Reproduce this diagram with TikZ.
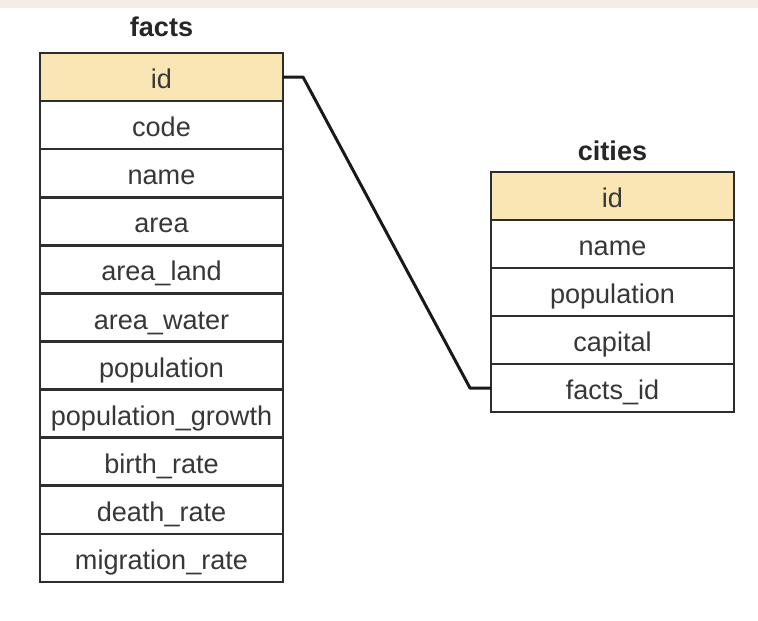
\documentclass[tikz,border=0pt]{standalone}
\usepackage{fontspec}
\setmainfont{Liberation Sans}
\usetikzlibrary{positioning}

\definecolor{keyfill}{RGB}{250,229,180}
\definecolor{rowedge}{RGB}{45,45,45}
\definecolor{rowtext}{RGB}{55,55,55}
\definecolor{topband}{RGB}{246,236,230}

\tikzset{
    field/.style={draw=rowedge, line width=0.75pt, fill=white, text=rowtext,
        minimum width=2.43cm, minimum height=0.481cm, inner sep=0pt, outer sep=0pt,
        text height=0.86em, text depth=0.2em, font=\fontsize{7.7}{9}\selectfont},
    keyfield/.style={field, fill=keyfill},
    tabletitle/.style={text=black!85, font=\fontsize{7.7}{9}\selectfont\bfseries},
    link/.style={draw=black!90, line width=0.85pt, line join=round}
}

\begin{document}
\begin{tikzpicture}[x=0.01cm, y=-0.01cm]

    % Page and faint strip along the top
    \useasboundingbox (0,0) rectangle (758,620);
    \fill[white] (0,0) rectangle (758,620);
    \fill[topband] (0,0) rectangle (758,8);

    % facts table
    \node[tabletitle] (facts-title) at (161.5,27) {facts};
    \node[keyfield] (facts-0) at (161.5,77) {id};
    \foreach \f [count=\i] in {code,name,area,area\_land,area\_water,population,
            population\_growth,birth\_rate,death\_rate,migration\_rate} {
        \node[field] (facts-\i) at (161.5,77+48.09*\i) {\f};
    }

    % cities table
    \node[tabletitle] (cities-title) at (612.5,151) {cities};
    \node[keyfield] (cities-0) at (612.5,196) {id};
    \foreach \f [count=\i] in {name,population,capital,facts\_id} {
        \node[field] (cities-\i) at (612.5,196+48*\i) {\f};
    }

    % Key link
    \coordinate (bend-a) at (303,77);
    \coordinate (bend-b) at (470,388);
    \draw[link] (facts-0.east) -- (bend-a) -- (bend-b) -- (cities-4.west);

\end{tikzpicture}
\end{document}
